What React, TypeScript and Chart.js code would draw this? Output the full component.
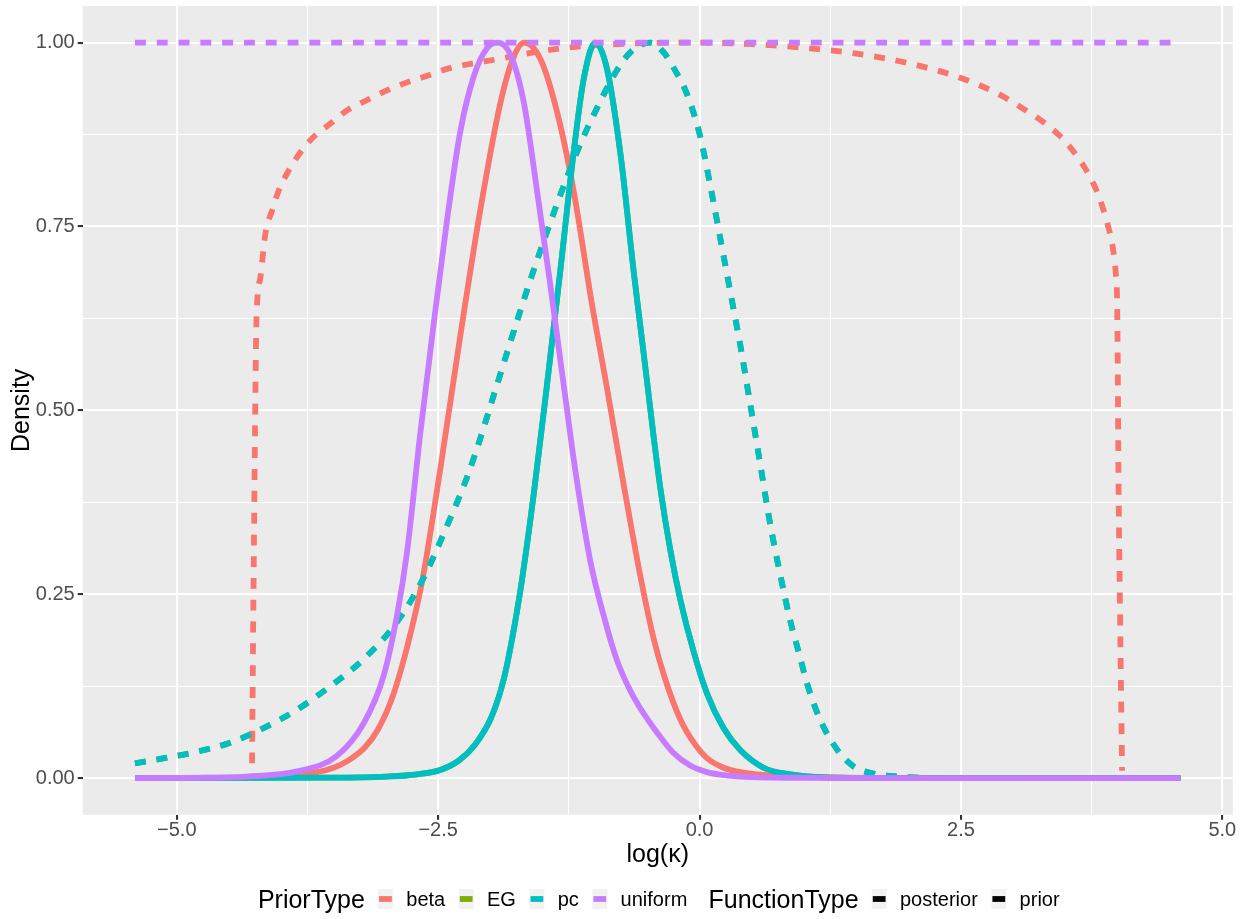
import React, { useEffect, useRef } from "react";
import { Chart, registerables } from "chart.js";

Chart.register(...registerables);

// ---------- data ----------
const xMajorTicks = [-5, -2.5, 0, 2.5, 5];
const xMinorTicks = [-3.75, -1.25, 1.25, 3.75];
const xTickLabels = ["\u22125.0", "\u22122.5", "0.0", "2.5", "5.0"];
const yMajorTicks = [0, 0.25, 0.5, 0.75, 1];
const yMinorTicks = [0.125, 0.375, 0.625, 0.875];
const yTickLabels = ["0.00", "0.25", "0.50", "0.75", "1.00"];

const priorTypes = ["beta", "EG", "pc", "uniform"];
const functionTypes = ["posterior", "prior"];
const priorColors = ["#F8766D", "#7CAE00", "#00BFC4", "#C77CFF"];

const xTitle = "log(\u03BA)";
const yTitle = "Density";

// [log(kappa), density]
const betaPosterior: [number, number][] = [
  [-5.4, 0], [-4.6, 0.0003], [-4.17, 0.001], [-3.69, 0.007], [-3.5, 0.014], [-3.37, 0.023],
  [-3.2, 0.042], [-3.08, 0.065], [-2.95, 0.105], [-2.85, 0.15], [-2.75, 0.205], [-2.65, 0.27],
  [-2.48, 0.42], [-2.29, 0.6], [-2.1, 0.77], [-1.905, 0.918], [-1.78, 0.98], [-1.676, 1.0],
  [-1.52, 0.977], [-1.36, 0.904], [-1.205, 0.799], [-1.03, 0.645], [-0.885, 0.53], [-0.727, 0.4],
  [-0.567, 0.275], [-0.44, 0.19], [-0.33, 0.135], [-0.185, 0.08], [-0.05, 0.047], [0.071, 0.027],
  [0.23, 0.014], [0.389, 0.008], [0.707, 0.003], [1.2, 0.001], [2.0, 0], [4.6, 0],
];
const betaPrior: [number, number][] = [
  [-4.28, 0.02], [-4.27, 0.2], [-4.26, 0.35], [-4.25, 0.5], [-4.238, 0.623], [-4.2, 0.681],
  [-4.153, 0.74], [-4.088, 0.772], [-4.025, 0.799], [-3.93, 0.826], [-3.817, 0.851], [-3.69, 0.872],
  [-3.53, 0.89], [-3.371, 0.908], [-3.18, 0.922], [-2.99, 0.935], [-2.797, 0.946], [-2.606, 0.955],
  [-2.4, 0.965], [-2.16, 0.972], [-1.953, 0.977], [-1.555, 0.9875], [-1.14, 0.995], [-0.6, 0.999],
  [0, 1.0], [0.5, 0.998], [1.0, 0.993], [1.5, 0.985], [2.0, 0.972], [2.5, 0.952], [2.875, 0.929],
  [3.098, 0.91], [3.289, 0.892], [3.448, 0.873], [3.582, 0.851], [3.697, 0.827], [3.793, 0.8],
  [3.862, 0.773], [3.917, 0.745], [3.958, 0.716], [3.981, 0.686], [3.993, 0.652], [4.0, 0.557],
  [4.006, 0.422], [4.022, 0.219], [4.041, 0.01],
];
const pcPosterior: [number, number][] = [
  [-5.4, 0], [-3.5, 0.0005], [-3.0, 0.002], [-2.7, 0.005], [-2.48, 0.011], [-2.3, 0.024],
  [-2.15, 0.045], [-2.0, 0.08], [-1.9, 0.12], [-1.84, 0.155], [-1.714, 0.255], [-1.587, 0.385],
  [-1.459, 0.535], [-1.332, 0.69], [-1.205, 0.85], [-1.109, 0.95], [-0.997, 1.0], [-0.885, 0.964],
  [-0.758, 0.85], [-0.631, 0.69], [-0.567, 0.615], [-0.503, 0.54], [-0.44, 0.465], [-0.376, 0.395],
  [-0.28, 0.31], [-0.185, 0.243], [-0.057, 0.172], [0.071, 0.115], [0.229, 0.068], [0.389, 0.038],
  [0.612, 0.014], [0.867, 0.005], [1.2, 0.001], [2.0, 0], [4.6, 0],
];
const egPosterior: [number, number][] = pcPosterior.map(([x, y]) => [x, y]);
const pcPrior: [number, number][] = [
  [-5.4, 0.02], [-5.12, 0.027], [-4.8, 0.036], [-4.49, 0.048], [-4.17, 0.068], [-3.85, 0.093],
  [-3.53, 0.125], [-3.21, 0.162], [-2.89, 0.213], [-2.64, 0.272], [-2.415, 0.343], [-2.224, 0.409],
  [-2.097, 0.462], [-1.937, 0.535], [-1.778, 0.607], [-1.619, 0.677], [-1.459, 0.743], [-1.3, 0.805],
  [-1.141, 0.862], [-0.981, 0.911], [-0.822, 0.955], [-0.694, 0.982], [-0.58, 0.996], [-0.47, 1.0],
  [-0.35, 0.988], [-0.249, 0.966], [-0.12, 0.93], [0.007, 0.872], [0.102, 0.806], [0.198, 0.734],
  [0.294, 0.661], [0.389, 0.589], [0.485, 0.508], [0.58, 0.427], [0.676, 0.345], [0.771, 0.277],
  [0.867, 0.214], [0.96, 0.165], [1.027, 0.129], [1.154, 0.079], [1.314, 0.039], [1.472, 0.016],
  [1.663, 0.006], [1.919, 0.002], [2.3, 0], [4.6, 0],
];
const egPrior: [number, number][] = pcPrior.map(([x, y]) => [x, y]);
const uniformPosterior: [number, number][] = [
  [-5.4, 0], [-4.8, 0.0003], [-4.33, 0.002], [-3.85, 0.009], [-3.47, 0.03], [-3.21, 0.075],
  [-3.02, 0.14], [-2.89, 0.224], [-2.8, 0.305], [-2.67, 0.47], [-2.54, 0.621], [-2.415, 0.759],
  [-2.29, 0.878], [-2.16, 0.954], [-2.03, 0.993], [-1.93, 1.0], [-1.81, 0.984], [-1.68, 0.918],
  [-1.555, 0.799], [-1.43, 0.673], [-1.3, 0.535], [-1.19, 0.42], [-1.045, 0.295], [-0.9, 0.212],
  [-0.79, 0.16], [-0.66, 0.118], [-0.567, 0.095], [-0.407, 0.062], [-0.249, 0.034], [-0.09, 0.017],
  [0.071, 0.008], [0.23, 0.004], [0.389, 0.002], [1.0, 0.0003], [2.0, 0], [4.6, 0],
];
const uniformPrior: [number, number][] = [
  [-5.4, 1], [4.6, 1],
];

// ---------- styling ----------
const FONT = "'Liberation Sans', Arial, Helvetica, sans-serif";
const LINE_W = 5.8;
const DASH = [10.9, 10.9];
const W = 1247;
const H = 919;
const PANEL = { left: 82.7, top: 5.9, right: 1232.8, bottom: 814.8 };

const isMajor = (arr: number[], v: number) => arr.some((t) => Math.abs(t - v) < 1e-9);

function makeDataset(label: string, pts: [number, number][], color: string, dashed: boolean) {
  return {
    label,
    data: pts.map(([x, y]) => ({ x, y })),
    borderColor: color,
    backgroundColor: color,
    borderWidth: LINE_W,
    borderDash: dashed ? DASH : [],
    borderCapStyle: "butt",
    borderJoinStyle: "round",
    pointRadius: 0,
    pointHoverRadius: 0,
    fill: false,
    cubicInterpolationMode: "monotone",
  };
}

const decorPlugin = {
  id: "decor",
  beforeDraw(chart: any) {
    const { ctx, chartArea } = chart;
    ctx.save();
    ctx.fillStyle = "#FFFFFF";
    ctx.fillRect(0, 0, chart.width, chart.height);
    ctx.fillStyle = "#EBEBEB";
    ctx.fillRect(chartArea.left, chartArea.top, chartArea.right - chartArea.left, chartArea.bottom - chartArea.top);
    ctx.restore();
  },
  afterDraw(chart: any) {
    const { ctx, chartArea } = chart;
    const cx = (chartArea.left + chartArea.right) / 2;
    const cy = (chartArea.top + chartArea.bottom) / 2;
    ctx.save();
    ctx.fillStyle = "#000000";
    ctx.font = `25px ${FONT}`;
    ctx.textAlign = "center";
    ctx.textBaseline = "middle";
    ctx.fillText(xTitle, cx, 855);
    ctx.save();
    ctx.translate(22, cy);
    ctx.rotate(-Math.PI / 2);
    ctx.fillText(yTitle, 0, 0);
    ctx.restore();

    // legend
    const titleFont = `25px ${FONT}`;
    const labelFont = `20px ${FONT}`;
    const keyW = 14.8;
    const keyH = 20;
    const gapTitleKey = 13.2;
    const gapKeyLabel = 13.4;
    const gapLabelKey = 13.6;
    const gapGroup = 21.2;
    type Item = { kind: "title" | "key" | "label"; text?: string; color?: string; w: number };
    const items: Item[] = [];
    const measure = (t: string, f: string) => {
      ctx.font = f;
      return ctx.measureText(t).width;
    };
    items.push({ kind: "title", text: "PriorType", w: measure("PriorType", titleFont) });
    priorTypes.forEach((p, i) => {
      items.push({ kind: "key", color: priorColors[i], w: keyW });
      items.push({ kind: "label", text: p, w: measure(p, labelFont) });
    });
    items.push({ kind: "title", text: "FunctionType", w: measure("FunctionType", titleFont) });
    functionTypes.forEach((f) => {
      items.push({ kind: "key", color: "#000000", w: keyW });
      items.push({ kind: "label", text: f, w: measure(f, labelFont) });
    });
    const gapAfter = (a: Item, b: Item | undefined) => {
      if (!b) return 0;
      if (a.kind === "title") return gapTitleKey;
      if (a.kind === "key") return gapKeyLabel;
      if (b.kind === "title") return gapGroup;
      return gapLabelKey;
    };
    let total = 0;
    items.forEach((it, i) => (total += it.w + gapAfter(it, items[i + 1])));
    let x = cx + 1 - total / 2;
    const ly = 899;
    items.forEach((it, i) => {
      if (it.kind === "title") {
        ctx.font = titleFont;
        ctx.fillStyle = "#000000";
        ctx.textAlign = "left";
        ctx.textBaseline = "alphabetic";
        ctx.fillText(it.text!, x, 908);
      } else if (it.kind === "label") {
        ctx.font = labelFont;
        ctx.fillStyle = "#000000";
        ctx.textAlign = "left";
        ctx.textBaseline = "alphabetic";
        ctx.fillText(it.text!, x, 906.3);
      } else {
        ctx.fillStyle = "#F2F2F2";
        ctx.fillRect(x, ly - keyH / 2, keyW, keyH);
        ctx.strokeStyle = it.color!;
        ctx.lineWidth = LINE_W;
        ctx.beginPath();
        ctx.moveTo(x + 1, ly);
        ctx.lineTo(x + keyW - 1, ly);
        ctx.stroke();
      }
      x += it.w + gapAfter(it, items[i + 1]);
    });
    ctx.restore();
  },
};

export default function App() {
  const canvasRef = useRef<HTMLCanvasElement | null>(null);

  useEffect(() => {
    document.body.style.margin = "0";
    const canvas = canvasRef.current;
    if (!canvas) return;

    const datasets = [
      makeDataset("uniform posterior", uniformPosterior, priorColors[3], false),
      makeDataset("uniform prior", uniformPrior, priorColors[3], true),
      makeDataset("pc posterior", pcPosterior, priorColors[2], false),
      makeDataset("pc prior", pcPrior, priorColors[2], true),
      makeDataset("EG posterior", egPosterior, priorColors[1], false),
      makeDataset("EG prior", egPrior, priorColors[1], true),
      makeDataset("beta posterior", betaPosterior, priorColors[0], false),
      makeDataset("beta prior", betaPrior, priorColors[0], true),
    ];

    const gridCommon = (majors: number[]) => ({
      color: "#FFFFFF",
      lineWidth: (c: any) => (c.tick && isMajor(majors, c.tick.value) ? 2.1 : 1.05),
      tickColor: (c: any) => (c.tick && isMajor(majors, c.tick.value) ? "#333333" : "rgba(0,0,0,0)"),
      tickWidth: 2.1,
      tickLength: 5,
      drawOnChartArea: true,
      drawTicks: true,
    });

    const chart = new Chart(canvas, {
      type: "line",
      data: { datasets: datasets as any },
      plugins: [decorPlugin],
      options: {
        responsive: false,
        animation: false,
        devicePixelRatio: 1,
        layout: { padding: { left: 0, top: PANEL.top, right: W - PANEL.right, bottom: 0 } },
        plugins: {
          legend: { display: false },
          tooltip: { enabled: false },
        },
        scales: {
          x: {
            type: "linear",
            min: -5.9,
            max: 5.1,
            afterBuildTicks: (s: any) => {
              s.ticks = [...xMajorTicks, ...xMinorTicks].sort((a, b) => a - b).map((v) => ({ value: v }));
            },
            afterFit: (s: any) => {
              s.height = H - PANEL.bottom;
              s.paddingLeft = 0;
              s.paddingRight = 0;
              s.paddingTop = 0;
              s.paddingBottom = 0;
            },
            ticks: {
              autoSkip: false,
              maxRotation: 0,
              padding: -1,
              color: "#4D4D4D",
              font: { family: FONT, size: 20 },
              callback: (v: any) => {
                const i = xMajorTicks.findIndex((t) => Math.abs(t - Number(v)) < 1e-9);
                return i >= 0 ? xTickLabels[i] : "";
              },
            },
            grid: gridCommon(xMajorTicks) as any,
            border: { display: false },
          },
          y: {
            type: "linear",
            min: -0.05,
            max: 1.05,
            afterBuildTicks: (s: any) => {
              s.ticks = [...yMajorTicks, ...yMinorTicks].sort((a, b) => a - b).map((v) => ({ value: v }));
            },
            afterFit: (s: any) => {
              s.width = PANEL.left;
              s.paddingLeft = 0;
              s.paddingRight = 0;
              s.paddingTop = 0;
              s.paddingBottom = 0;
            },
            ticks: {
              autoSkip: false,
              padding: 3,
              color: "#4D4D4D",
              font: { family: FONT, size: 20 },
              callback: (v: any) => {
                const i = yMajorTicks.findIndex((t) => Math.abs(t - Number(v)) < 1e-9);
                return i >= 0 ? yTickLabels[i] : "";
              },
            },
            grid: gridCommon(yMajorTicks) as any,
            border: { display: false },
          },
        },
      } as any,
    });

    return () => {
      chart.destroy();
    };
  }, []);

  return (
    <div style={{ width: W, height: H, background: "#FFFFFF" }}>
      <canvas ref={canvasRef} width={W} height={H} style={{ display: "block", width: W, height: H }} />
    </div>
  );
}
